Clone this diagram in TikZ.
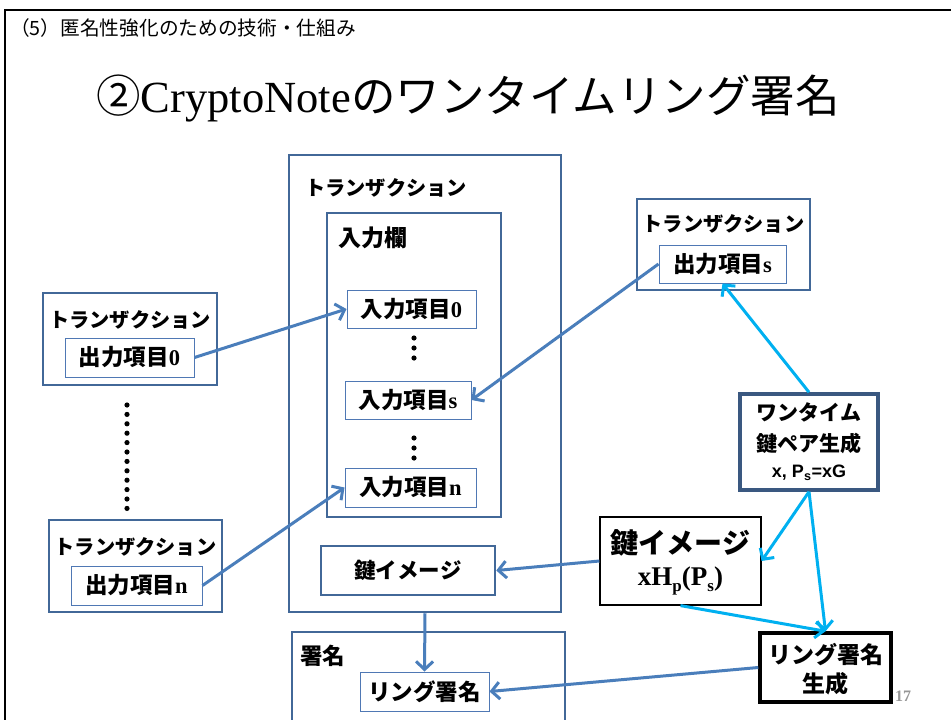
\documentclass[tikz,border=0pt]{standalone}
\usepackage{fontspec}
\usetikzlibrary{arrows.meta}
\newfontfamily\jp{Noto Sans CJK JP}
\newfontfamily\ser{Liberation Serif}
\newfontfamily\lsans{Liberation Sans}
\definecolor{boxblue}{RGB}{66,104,152}
\definecolor{itemblue}{RGB}{79,120,180}
\definecolor{arrblue}{RGB}{74,126,187}
\definecolor{cyanarr}{RGB}{0,176,240}
\definecolor{darkbox}{RGB}{58,88,128}
\definecolor{pgnum}{RGB}{150,150,150}
\tikzset{
  cont/.style={draw=boxblue,line width=2.5pt,rectangle,inner sep=0pt,fill=white},
  itembox/.style={draw=itemblue,line width=1pt,rectangle,inner sep=0pt,fill=white,
     minimum height=38pt,font=\fontsize{22.5}{26}\selectfont},
  lbl/.style={inner sep=0pt,font=\fontsize{20.2}{24}\selectfont\jp\bfseries},
  barr/.style={draw=arrblue,line width=3pt,-{Straight Barb[length=8pt,width=17pt]}},
  carr/.style={draw=cyanarr,line width=3pt,-{Straight Barb[length=8pt,width=17pt]}},
}
\newcommand{\myjb}[1]{{\jp\bfseries #1}}
\newcommand{\mysb}[1]{{\ser\bfseries #1}}
\newcommand{\mysub}[1]{\raisebox{-0.45ex}{\fontsize{17}{18}\selectfont #1}}
\begin{document}
\begin{tikzpicture}[x=1pt,y=-1pt]
\useasboundingbox (0,0) rectangle (951,720);
\begin{scope}
\clip (0,0) rectangle (951,720);
% frame
\draw[line width=2.5pt] (5,740) -- (5,10) -- (960,10);
% header and title
\node[anchor=west,inner sep=0pt,font=\fontsize{19.7}{22}\selectfont\jp] (hdr) at (10,28) {（5）匿名性強化のための技術・仕組み};
\node[inner sep=0pt] (title) at (468,98) {\fontsize{44.5}{50}\selectfont{\jp ②}{\ser CryptoNote}{\jp のワンタイムリング署名}};

% big transaction
\node[cont,minimum width=272pt,minimum height=457pt] (tx) at (425,383.5) {};
\node[lbl,anchor=west] (txl) at (305,188) {トランザクション};
\node[cont,minimum width=174pt,minimum height=304pt] (inb) at (414,365) {};
\node[lbl,anchor=west,font=\fontsize{23}{26}\selectfont\jp\bfseries] (inbl) at (338,238) {入力欄};
\node[itembox,minimum width=129pt] (ip0) at (411.5,309) {\myjb{入力項目}\mysb{0}};
\node[itembox,minimum width=126pt] (ips) at (408,400) {\myjb{入力項目}\mysb{s}};
\node[itembox,minimum width=131pt,minimum height=39pt] (ipn) at (410.5,487.5) {\myjb{入力項目}\mysb{n}};
\foreach \yy in {338,348,358,438,448,458} \fill (414,\yy) circle (2.6pt);
\node[cont,minimum width=174pt,minimum height=49pt,font=\fontsize{21.5}{24}\selectfont] (ki) at (408,570.5) {\myjb{鍵イメージ}};

% signature box
\node[cont,minimum width=273pt,minimum height=110pt] (sig) at (428.5,687) {};
\node[lbl,anchor=west,font=\fontsize{22.5}{26}\selectfont\jp\bfseries] (sigl) at (300,656) {署名};
\node[itembox,minimum width=129pt,minimum height=39pt] (rs) at (424.5,691.5) {\myjb{リング署名}};

% left transactions
\node[cont,minimum width=174pt,minimum height=92pt] (lt0) at (130,339) {};
\node[lbl] (lt0l) at (130,320) {トランザクション};
\node[itembox,minimum width=129pt,minimum height=39pt] (o0) at (129.5,357.5) {\myjb{出力項目}\mysb{0}};
\foreach \k in {0,...,11} \fill (127,405+9.4*\k) circle (2.6pt);
\node[cont,minimum width=173pt,minimum height=92pt] (ltn) at (135.5,566) {};
\node[lbl] (ltnl) at (135.5,547) {トランザクション};
\node[itembox,minimum width=131pt,minimum height=39pt] (on) at (136.5,585.5) {\myjb{出力項目}\mysb{n}};

% right transaction
\node[cont,minimum width=173pt,minimum height=91pt] (rt) at (723.5,244.5) {};
\node[lbl] (rtl) at (723.5,224) {トランザクション};
\node[itembox,minimum width=127pt] (os) at (722.5,264) {\myjb{出力項目}\mysb{s}};

% one-time key pair generation
\node[draw=darkbox,line width=3.5pt,fill=white,minimum width=138pt,minimum height=96pt,inner sep=0pt] (otk) at (809,442) {};
\node[lbl,font=\fontsize{21}{24}\selectfont\jp\bfseries] (otk1) at (809,412) {ワンタイム};
\node[lbl,font=\fontsize{21}{24}\selectfont\jp\bfseries] (otk2) at (809,443) {鍵ペア生成};
\node[inner sep=0pt,font=\fontsize{18}{20}\selectfont\lsans\bfseries] (otk3) at (809,473) {x, P\textsubscript{s}=xG};

% key image
\node[draw=black,line width=1.2pt,fill=white,minimum width=161pt,minimum height=88pt,inner sep=0pt] (kimg) at (680.5,561) {};
\node[inner sep=0pt,font=\fontsize{28}{32}\selectfont\jp\bfseries] (kimg1) at (680.5,543) {鍵イメージ};
\node[inner sep=0pt,font=\fontsize{27}{30}\selectfont\ser\bfseries] (kimg2) at (680.5,581) {xH\mysub{p}(P\mysub{s})};

% ring signature generation
\node[draw=black,line width=3.5pt,fill=white,minimum width=131pt,minimum height=69pt,inner sep=0pt] (rsg) at (825.5,667.5) {};
\node[lbl,font=\fontsize{23}{26}\selectfont\jp\bfseries] (rsg1) at (825.5,655) {リング署名};
\node[lbl,font=\fontsize{23}{26}\selectfont\jp\bfseries] (rsg2) at (825.5,684) {生成};

% page number
\node[inner sep=0pt,font=\fontsize{16}{18}\selectfont\ser\bfseries,text=pgnum] (pg) at (903,696) {17};

% arrows
\draw[barr] (o0.east) -- (ip0.west);
\draw[barr] (on.east) -- (ipn.west);
\draw[barr] (os.west) -- (ips.east);
\draw[barr] (kimg.west) -- (ki.east);
\draw[barr] (tx.south) -- (rs.north);
\draw[barr] (rsg.west) -- (rs.east);
\draw[carr] (otk.north) -- (os.south);
\draw[carr] (otk.south) -- (kimg.east);
\draw[carr] (otk.south) -- (rsg.north);
\draw[carr] (kimg.south) -- (rsg.north);
\end{scope}
\end{tikzpicture}
\end{document}
